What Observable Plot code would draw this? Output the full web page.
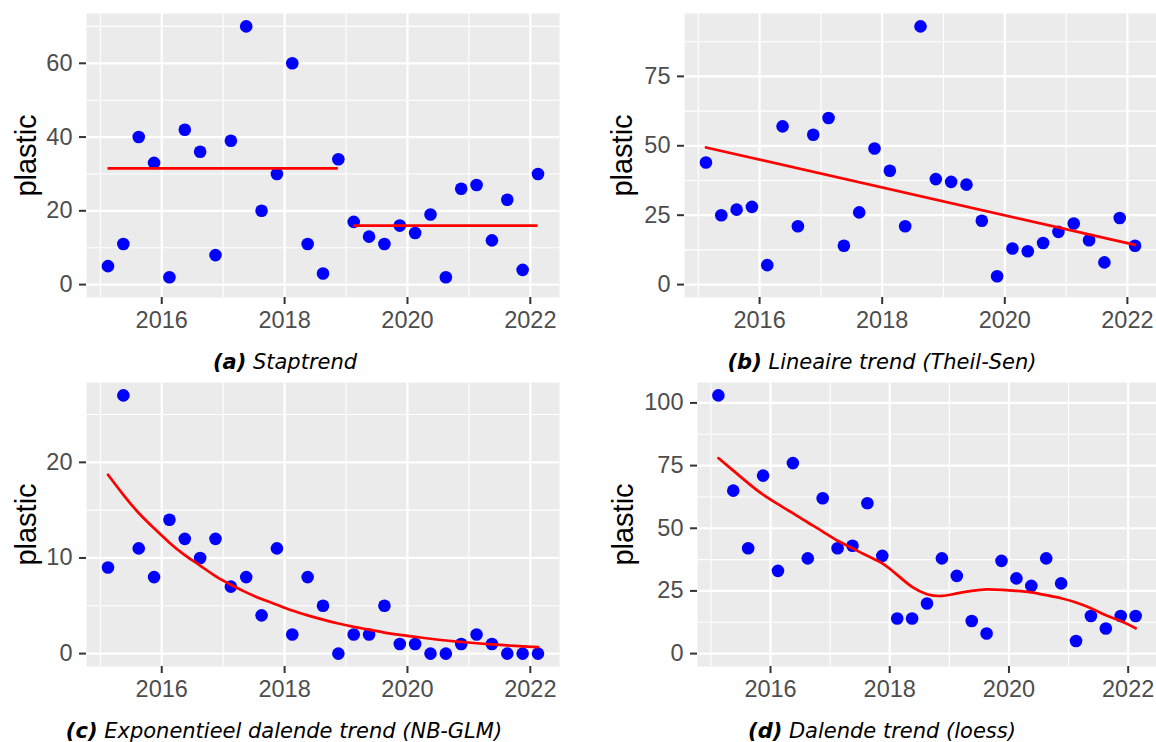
<!DOCTYPE html>
<html>
<head>
<meta charset="utf-8">
<script src="https://cdn.jsdelivr.net/npm/d3@7"></script>
<script src="https://cdn.jsdelivr.net/npm/@observablehq/plot@0.6"></script>
<style>
  html, body { margin: 0; padding: 0; background: #ffffff; }
  #wrap { position: relative; width: 1156px; height: 742px; overflow: hidden; background: #ffffff; }
  #wrap svg { position: absolute; }
  .cap { position: absolute; width: 600px; text-align: center; font-family: "DejaVu Sans", sans-serif;
         font-size: 21px; line-height: 24px; font-style: italic; color: #000; white-space: nowrap; }
  .cap b { font-weight: bold; }
</style>
</head>
<body>
<div id="wrap"></div>
<script>
// ---- data ----
const dates = [2015.125, 2015.375, 2015.625, 2015.875, 2016.125, 2016.375, 2016.625, 2016.875,
  2017.125, 2017.375, 2017.625, 2017.875, 2018.125, 2018.375, 2018.625, 2018.875,
  2019.125, 2019.375, 2019.625, 2019.875, 2020.125, 2020.375, 2020.625, 2020.875,
  2021.125, 2021.375, 2021.625, 2021.875, 2022.125];

const plasticA = [5, 11, 40, 33, 2, 42, 36, 8, 39, 70, 20, 30, 60, 11, 3, 34, 17, 13, 11, 16, 14, 19, 2, 26, 27, 12, 23, 4, 30];
const plasticB = [44, 25, 27, 28, 7, 57, 21, 54, 60, 14, 26, 49, 41, 21, 93, 38, 37, 36, 23, 3, 13, 12, 15, 19, 22, 16, 8, 24, 14];
const plasticC = [9, 27, 11, 8, 14, 12, 10, 12, 7, 8, 4, 11, 2, 8, 5, 0, 2, 2, 5, 1, 1, 0, 0, 1, 2, 1, 0, 0, 0];
const plasticD = [103, 65, 42, 71, 33, 76, 38, 62, 42, 43, 60, 39, 14, 14, 20, 38, 31, 13, 8, 37, 30, 27, 38, 28, 5, 15, 10, 15, 15];

// (a) step trend
const stepStart = [2015.125, 2019.125];
const stepEnd = [2018.875, 2022.125];
const stepLevel = [31.5, 16];
// (b) Theil-Sen line end points
const trendBx = [2015.125, 2022.125];
const trendBy = [49.4, 14.3];
// (c) NB-GLM fitted curve (read at each date)
const trendC = [18.7, 16.6, 14.7, 13.1, 11.6, 10.3, 9.2, 8.1, 7.2, 6.4, 5.7, 5.1, 4.5, 4.0, 3.55,
  3.15, 2.8, 2.5, 2.2, 1.95, 1.75, 1.55, 1.37, 1.22, 1.08, 0.96, 0.85, 0.76, 0.67];
// (d) loess curve (read at each date)
const trendD = [78, 73, 68, 63.4, 59.6, 56, 52.3, 48.7, 45, 42, 39, 36, 31.4, 26.6, 23.7, 23,
  24, 25, 25.6, 25.4, 25, 24.4, 23.3, 22.1, 20.4, 18.1, 15.3, 13, 10.1];

// ticks
const xMajor = [2016, 2018, 2020, 2022];
const xMinor = [2015, 2017, 2019, 2021];
const yMajorA = [0, 20, 40, 60], yMinorA = [10, 30, 50, 70];
const yMajorB = [0, 25, 50, 75], yMinorB = [12.5, 37.5, 62.5, 87.5];
const yMajorC = [0, 10, 20], yMinorC = [5, 15, 25];
const yMajorD = [0, 25, 50, 75, 100], yMinorD = [12.5, 37.5, 62.5, 87.5];

const captions = [
  ["(a)", "Staptrend"],
  ["(b)", "Lineaire trend (Theil-Sen)"],
  ["(c)", "Exponentieel dalende trend (NB-GLM)"],
  ["(d)", "Dalende trend (loess)"]
];

// ---- drawing ----
const xDomain = [2014.775, 2022.475];
const wrap = document.getElementById("wrap");

function panel({values, yDomain, yMajor, yMinor, trend, marginLeft, marginRight, titleDx, left, top}) {
  const pts = dates.map((d, i) => ({date: d, v: values[i]}));
  const svg = Plot.plot({
    width: 578, height: 345,
    marginTop: 13, marginBottom: 48, marginLeft, marginRight,
    x: {domain: xDomain},
    y: {domain: yDomain},
    style: {fontFamily: "'Liberation Sans', Arial, sans-serif", background: "transparent", overflow: "visible"},
    marks: [
      Plot.frame({fill: "#EBEBEB", stroke: "none"}),
      Plot.gridX(xMinor, {stroke: "#ffffff", strokeOpacity: 1, strokeWidth: 1.1}),
      Plot.gridY(yMinor, {stroke: "#ffffff", strokeOpacity: 1, strokeWidth: 1.1}),
      Plot.gridX(xMajor, {stroke: "#ffffff", strokeOpacity: 1, strokeWidth: 2.2}),
      Plot.gridY(yMajor, {stroke: "#ffffff", strokeOpacity: 1, strokeWidth: 2.2}),
      Plot.axisX(xMajor, {tickSize: 7, tickPadding: 7, tickFormat: d => String(d), fontSize: 23.5,
        color: "#4D4D4D", stroke: "#333333", strokeWidth: 2, label: null}),
      Plot.axisY(yMajor, {tickSize: 7, tickPadding: 7, fontSize: 23.5,
        color: "#4D4D4D", stroke: "#333333", strokeWidth: 2, label: null}),
      Plot.dot(pts, {x: "date", y: "v", r: 6.3, fill: "#0000FF", stroke: "none"}),
      ...trend,
      Plot.text(["plastic"], {frameAnchor: "left", dx: titleDx, rotate: -90, textAnchor: "middle",
        lineAnchor: "middle", fontSize: 29, fill: "#000000"})
    ]
  });
  svg.style.left = left + "px";
  svg.style.top = top + "px";
  wrap.appendChild(svg);
}

const stepData = stepLevel.map((l, i) => ({x1: stepStart[i], x2: stepEnd[i], y: l}));
const lineB = trendBx.map((x, i) => ({x, y: trendBy[i]}));
const lineC = dates.map((x, i) => ({x, y: trendC[i]}));
const lineD = dates.map((x, i) => ({x, y: trendD[i]}));
const LW = 2.7;

panel({values: plasticA, yDomain: [-3.5, 73.5], yMajor: yMajorA, yMinor: yMinorA,
  trend: [Plot.ruleY(stepData, {y: "y", x1: "x1", x2: "x2", stroke: "#FF0000", strokeWidth: LW})],
  marginLeft: 86, marginRight: 19, titleDx: -60, left: 0, top: 0});
panel({values: plasticB, yDomain: [-4.65, 97.65], yMajor: yMajorB, yMinor: yMinorB,
  trend: [Plot.line(lineB, {x: "x", y: "y", stroke: "#FF0000", strokeWidth: LW})],
  marginLeft: 106, marginRight: 0, titleDx: -62, left: 578, top: 0});
panel({values: plasticC, yDomain: [-1.35, 28.35], yMajor: yMajorC, yMinor: yMinorC,
  trend: [Plot.line(lineC, {x: "x", y: "y", stroke: "#FF0000", strokeWidth: LW, curve: "natural"})],
  marginLeft: 86, marginRight: 19, titleDx: -60, left: 0, top: 369});
panel({values: plasticD, yDomain: [-5.15, 108.15], yMajor: yMajorD, yMinor: yMinorD,
  trend: [Plot.line(lineD, {x: "x", y: "y", stroke: "#FF0000", strokeWidth: LW, curve: "natural"})],
  marginLeft: 119, marginRight: 0, titleDx: -74, left: 578, top: 369});

const capPos = [[285, 350], [882, 350], [284, 719], [882, 719]];
captions.forEach(([tag, txt], i) => {
  const div = document.createElement("div");
  div.className = "cap";
  div.style.left = (capPos[i][0] - 300) + "px";
  div.style.top = capPos[i][1] + "px";
  const b = document.createElement("b");
  b.textContent = tag;
  div.appendChild(b);
  div.appendChild(document.createTextNode(" " + txt));
  wrap.appendChild(div);
});
</script>
</body>
</html>
